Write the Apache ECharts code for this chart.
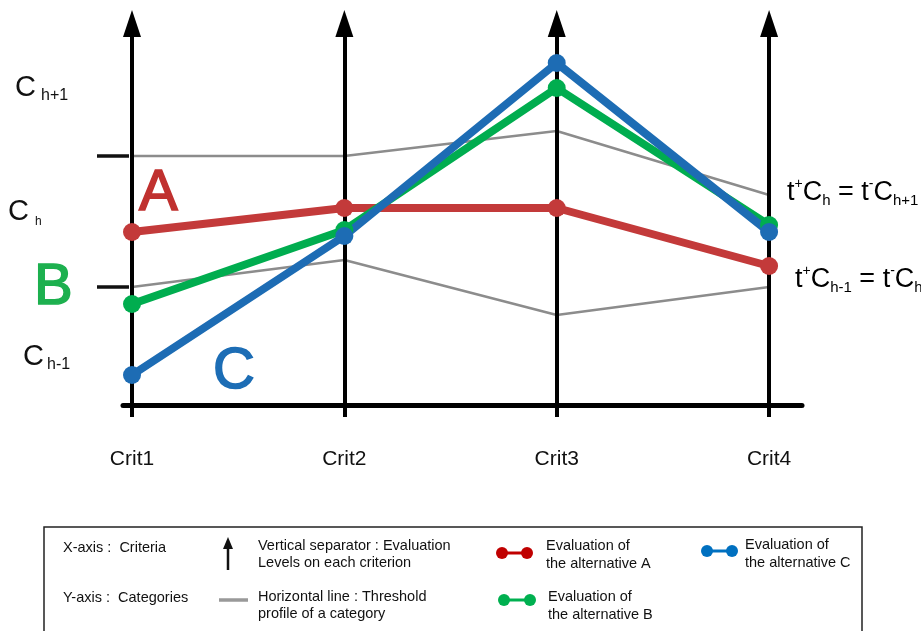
<!DOCTYPE html>
<html>
<head>
<meta charset="utf-8">
<script src="https://cdn.jsdelivr.net/npm/echarts@6/dist/echarts.min.js"></script>
<style>html,body{margin:0;padding:0;background:#fff}#c{width:921px;height:631px}</style>
</head>
<body>
<div id="c"></div>
<script>
// ---- data ----
const criteria = ['Crit1', 'Crit2', 'Crit3', 'Crit4'];
const altA = [173, 197, 197, 139];
const altB = [101, 175, 317, 180];
const altC = [30, 169, 342, 173];
const upperProfile = [249, 249, 274, 210];
const lowerProfile = [118, 145, 90, 118];
const arrowTop = 381.5;

const FONT = '"Liberation Sans", Arial, sans-serif';
const pts = arr => arr.map((v, i) => [i, v]);
const critIdx = criteria.map((c, i) => i);

const chart = echarts.init(document.getElementById('c'), null, { renderer: 'canvas' });

const colA = '#c33a3a', colB = '#00ad4f', colC = '#1d6cb4';

function altSeries(name, data, color) {
  return {
    name, type: 'line', data: pts(data),
    symbol: 'circle', symbolSize: 18, showSymbol: true,
    lineStyle: { width: 8, color },
    itemStyle: { color },
    silent: true, z: 5
  };
}

const RC = '#3c3c3c';
const supSub = {
  t: { fontSize: 27, lineHeight: 31, fontFamily: FONT, color: RC },
  sup: { fontSize: 14, lineHeight: 14, verticalAlign: 'top', fontFamily: FONT, color: RC },
  sub: { fontSize: 15, lineHeight: 15, verticalAlign: 'bottom', fontFamily: FONT, color: RC }
};

const LF = '14.5px ' + FONT;
function lt(x, y, text) {
  return { type: 'text', x, y, silent: true, style: { text, font: LF, fill: '#111', verticalAlign: 'middle' } };
}
function big(x, y, text, color) {
  return { type: 'text', x, y, silent: true, style: { text, font: '58px ' + FONT, fill: color, stroke: color, lineWidth: 1.6, verticalAlign: 'middle' } };
}

const graphics = [
  // category labels on the left
  { type: 'text', x: 15, y: 88, style: { text: 'C', font: '29px ' + FONT, fill: '#111', verticalAlign: 'middle' } },
  { type: 'text', x: 41, y: 96, style: { text: 'h+1', font: '16px ' + FONT, fill: '#111', verticalAlign: 'middle' } },
  { type: 'text', x: 8, y: 212, style: { text: 'C', font: '29px ' + FONT, fill: '#111', verticalAlign: 'middle' } },
  { type: 'text', x: 35, y: 222, style: { text: 'h', font: '12px ' + FONT, fill: '#111', verticalAlign: 'middle' } },
  { type: 'text', x: 23, y: 357, style: { text: 'C', font: '29px ' + FONT, fill: '#111', verticalAlign: 'middle' } },
  { type: 'text', x: 47, y: 365, style: { text: 'h-1', font: '16px ' + FONT, fill: '#111', verticalAlign: 'middle' } },
  // big letters
  big(139, 194, 'A', '#c0312f'),
  big(34, 288, 'B', '#1db04f'),
  big(213, 372, 'C', '#1c6db5'),
  // right profile labels
  { type: 'text', x: 787, y: 177, style: { text: '{t|t}{sup|+}{t|C}{sub|h}{t| = t}{sup|-}{t|C}{sub|h+1}', rich: supSub, verticalAlign: 'top' } },
  { type: 'text', x: 795, y: 264, style: { text: '{t|t}{sup|+}{t|C}{sub|h-1}{t| = t}{sup|-}{t|C}{sub|h}', rich: supSub, verticalAlign: 'top' } },
  // legend box
  { type: 'rect', shape: { x: 44, y: 527, width: 818, height: 130 }, style: { fill: 'none', stroke: '#222', lineWidth: 1.5 }, silent: true },
  lt(63, 548, 'X-axis :  Criteria'),
  lt(63, 598, 'Y-axis :  Categories'),
  { type: 'line', shape: { x1: 228, y1: 570, x2: 228, y2: 547 }, style: { stroke: '#111', lineWidth: 2.5 } },
  { type: 'polygon', shape: { points: [[223, 549], [233, 549], [228, 537]] }, style: { fill: '#111' } },
  lt(258, 546, 'Vertical separator : Evaluation'),
  lt(258, 563, 'Levels on each criterion'),
  { type: 'line', shape: { x1: 219, y1: 600, x2: 248, y2: 600 }, style: { stroke: '#999', lineWidth: 3.5 } },
  lt(258, 597, 'Horizontal line : Threshold'),
  lt(258, 614, 'profile of a category'),
  // red legend icon
  { type: 'line', shape: { x1: 502, y1: 553, x2: 527, y2: 553 }, style: { stroke: '#c00000', lineWidth: 3 } },
  { type: 'circle', shape: { cx: 502, cy: 553, r: 6 }, style: { fill: '#c00000' } },
  { type: 'circle', shape: { cx: 527, cy: 553, r: 6 }, style: { fill: '#c00000' } },
  lt(546, 546, 'Evaluation of'),
  lt(546, 564, 'the alternative A'),
  // green legend icon
  { type: 'line', shape: { x1: 504, y1: 600, x2: 530, y2: 600 }, style: { stroke: '#00b050', lineWidth: 3 } },
  { type: 'circle', shape: { cx: 504, cy: 600, r: 6 }, style: { fill: '#00b050' } },
  { type: 'circle', shape: { cx: 530, cy: 600, r: 6 }, style: { fill: '#00b050' } },
  lt(548, 597, 'Evaluation of'),
  lt(548, 615, 'the alternative B'),
  // blue legend icon
  { type: 'line', shape: { x1: 707, y1: 551, x2: 732, y2: 551 }, style: { stroke: '#0070c0', lineWidth: 3 } },
  { type: 'circle', shape: { cx: 707, cy: 551, r: 6 }, style: { fill: '#0070c0' } },
  { type: 'circle', shape: { cx: 732, cy: 551, r: 6 }, style: { fill: '#0070c0' } },
  lt(745, 545, 'Evaluation of'),
  lt(745, 563, 'the alternative C')
];

const option = {
  animation: false,
  backgroundColor: '#fff',
  grid: { left: 123, right: 119, top: 5, bottom: 226, containLabel: false },
  xAxis: {
    type: 'value', min: -0.0424, max: 3.155,
    axisLine: { show: true, onZero: false, lineStyle: { color: '#000', width: 5 } },
    axisTick: { show: true, customValues: critIdx, length: 12, lineStyle: { color: '#000', width: 4 } },
    axisLabel: {
      show: true, customValues: critIdx, margin: 44,
      formatter: v => criteria[Math.round(v)] || '',
      fontFamily: FONT, fontSize: 21, color: '#111'
    },
    splitLine: { show: false }
  },
  yAxis: {
    type: 'value', min: 0, max: 400, offset: -6,
    axisLine: { show: false, onZero: false },
    axisTick: { show: true, customValues: [lowerProfile[0], upperProfile[0]], length: 32, lineStyle: { color: '#111', width: 3.5 } },
    axisLabel: { show: false },
    splitLine: { show: false }
  },
  series: [
    {
      name: 'Upper profile', type: 'line', data: pts(upperProfile), symbol: 'none',
      lineStyle: { width: 2.5, color: '#8c8c8c' }, silent: true, z: 2,
      markLine: {
        silent: true, symbol: ['none', 'triangle'], symbolSize: 20,
        label: { show: false },
        lineStyle: { color: '#000', width: 4, type: 'solid' },
        emphasis: { disabled: true },
        data: critIdx.map(i => [
          { coord: [i, 0], symbol: 'none' },
          { coord: [i, arrowTop], symbol: 'triangle', symbolSize: [18, 27] }
        ])
      }
    },
    {
      name: 'Lower profile', type: 'line', data: pts(lowerProfile), symbol: 'none',
      lineStyle: { width: 2.5, color: '#8c8c8c' }, silent: true, z: 2
    },
    altSeries('A', altA, colA),
    altSeries('B', altB, colB),
    altSeries('C', altC, colC)
  ],
  graphic: graphics
};
chart.setOption(option);
</script>
</body>
</html>
